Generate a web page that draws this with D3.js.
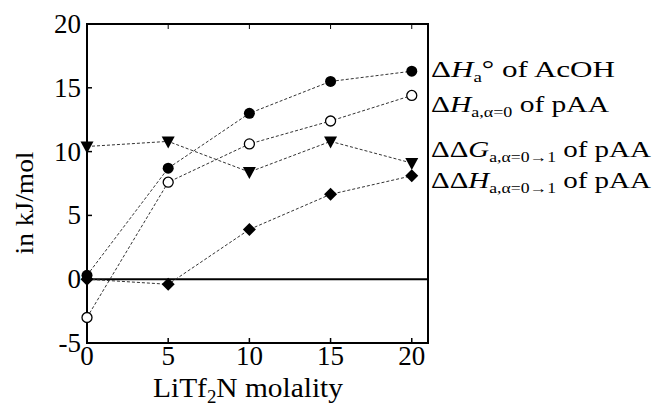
<!DOCTYPE html>
<html>
<head>
<meta charset="utf-8">
<script src="https://cdn.jsdelivr.net/npm/d3@7"></script>
<style>
  body { margin: 0; background: #fff; }
  text { font-family: "Liberation Serif", "DejaVu Serif", serif; fill: #000; }
</style>
</head>
<body>
<svg id="chart" width="654" height="409"></svg>
<script>
// molality values (x)
var molality = [0, 5, 10, 15, 20];

// series, kJ/mol
var dHa_AcOH = [0.3, 8.7, 13.0, 15.5, 16.3];
var dHa0_pAA = [-3.0, 7.6, 10.6, 12.4, 14.4];
var ddGa_pAA = [10.4, 10.8, 8.4, 10.8, 9.1];
var ddHa_pAA = [0.0, -0.4, 3.9, 6.65, 8.1];

var xTicks = [0, 5, 10, 15, 20];
var yTicks = [-5, 0, 5, 10, 15, 20];

var svg = d3.select("#chart");

var pLeft = 87, pRight = 428, pTop = 24, pBottom = 343;

var x = d3.scaleLinear().domain([0, 21]).range([pLeft, pRight]);
var y = d3.scaleLinear().domain([-5, 20]).range([pBottom, pTop]);

var line = d3.line()
    .x(function(d, i) { return x(molality[i]); })
    .y(function(d) { return y(d); });

// zero line
svg.append("line")
    .attr("x1", pLeft).attr("x2", pRight)
    .attr("y1", y(0)).attr("y2", y(0))
    .attr("stroke", "#000").attr("stroke-width", 2);

// ticks, pointing inward
var tl = 5;
xTicks.forEach(function(t) {
    if (t == 0) return;
    svg.append("line").attr("x1", x(t)).attr("x2", x(t))
        .attr("y1", pBottom).attr("y2", pBottom - tl)
        .attr("stroke", "#000").attr("stroke-width", 1.5);
    svg.append("line").attr("x1", x(t)).attr("x2", x(t))
        .attr("y1", pTop).attr("y2", pTop + tl)
        .attr("stroke", "#000").attr("stroke-width", 1);
});
yTicks.forEach(function(t) {
    svg.append("line").attr("x1", pLeft).attr("x2", pLeft + tl)
        .attr("y1", y(t)).attr("y2", y(t))
        .attr("stroke", "#000").attr("stroke-width", 1.5);
});

// frame
svg.append("rect")
    .attr("x", pLeft).attr("y", pTop)
    .attr("width", pRight - pLeft).attr("height", pBottom - pTop)
    .attr("fill", "none").attr("stroke", "#000").attr("stroke-width", 2);

// tick labels
svg.selectAll(".xl").data(xTicks).enter().append("text")
    .attr("x", function(d) { return x(d); })
    .attr("y", 365)
    .attr("text-anchor", "middle")
    .attr("font-size", 27)
    .text(function(d) { return d; });

svg.selectAll(".yl").data(yTicks).enter().append("text")
    .attr("x", 81)
    .attr("y", function(d) { return y(d) + 9; })
    .attr("text-anchor", "end")
    .attr("font-size", 27)
    .text(function(d) { return d; });

// axis titles
var xt = svg.append("text")
    .attr("x", 248).attr("y", 397)
    .attr("text-anchor", "middle")
    .attr("font-size", 28)
    .attr("textLength", 190).attr("lengthAdjust", "spacingAndGlyphs");
xt.append("tspan").text("LiTf");
xt.append("tspan").attr("font-size", 18).attr("dy", 6).text("2");
xt.append("tspan").attr("dy", -6).text("N molality");

svg.append("text")
    .attr("transform", "translate(33,203) rotate(-90)")
    .attr("text-anchor", "middle")
    .attr("font-size", 25)
    .attr("textLength", 103).attr("lengthAdjust", "spacingAndGlyphs")
    .text("in kJ/mol");

// series lines
[dHa_AcOH, dHa0_pAA, ddGa_pAA, ddHa_pAA].forEach(function(s) {
    svg.append("path")
        .attr("d", line(s))
        .attr("fill", "none")
        .attr("stroke", "#333")
        .attr("stroke-width", 1)
        .attr("stroke-dasharray", "3,2");
});

// markers
svg.selectAll(".c1").data(dHa_AcOH).enter().append("circle")
    .attr("cx", function(d, i) { return x(molality[i]); })
    .attr("cy", function(d) { return y(d); })
    .attr("r", 5.5).attr("fill", "#000");

svg.selectAll(".c2").data(dHa0_pAA).enter().append("circle")
    .attr("cx", function(d, i) { return x(molality[i]); })
    .attr("cy", function(d) { return y(d); })
    .attr("r", 5).attr("fill", "#fff")
    .attr("stroke", "#000").attr("stroke-width", 1.3);

svg.selectAll(".tri").data(ddGa_pAA).enter().append("path")
    .attr("d", "M-6.5,-5 L6.5,-5 L0,7 Z")
    .attr("transform", function(d, i) { return "translate(" + x(molality[i]) + "," + y(d) + ")"; })
    .attr("fill", "#000");

svg.selectAll(".dia").data(ddHa_pAA).enter().append("path")
    .attr("d", "M0,-6.5 L6.5,0 L0,6.5 L-6.5,0 Z")
    .attr("transform", function(d, i) { return "translate(" + x(molality[i]) + "," + y(d) + ")"; })
    .attr("fill", "#000");

// labels on the right
function label(yb, delta, sym, sub, deg, rest, len) {
    var t = svg.append("text").attr("x", 431).attr("y", yb).attr("font-size", 23)
        .attr("textLength", len).attr("lengthAdjust", "spacingAndGlyphs");
    t.append("tspan").text(delta);
    t.append("tspan").attr("font-style", "italic").text(sym);
    t.append("tspan").attr("font-size", 14).attr("dy", 5).text(sub);
    if (deg) t.append("tspan").attr("dy", -5).text(deg);
    t.append("tspan").attr("dy", deg ? 0 : -5).text(rest);
}
label(77, "\u0394", "H", "a", "\u00b0", " of AcOH", 184);
label(112, "\u0394", "H", "a,\u03b1=0", null, " of pAA", 178);
label(157, "\u0394\u0394", "G", "a,\u03b1=0\u21921", null, " of pAA", 220);
label(188, "\u0394\u0394", "H", "a,\u03b1=0\u21921", null, " of pAA", 220);
</script>
</body>
</html>
